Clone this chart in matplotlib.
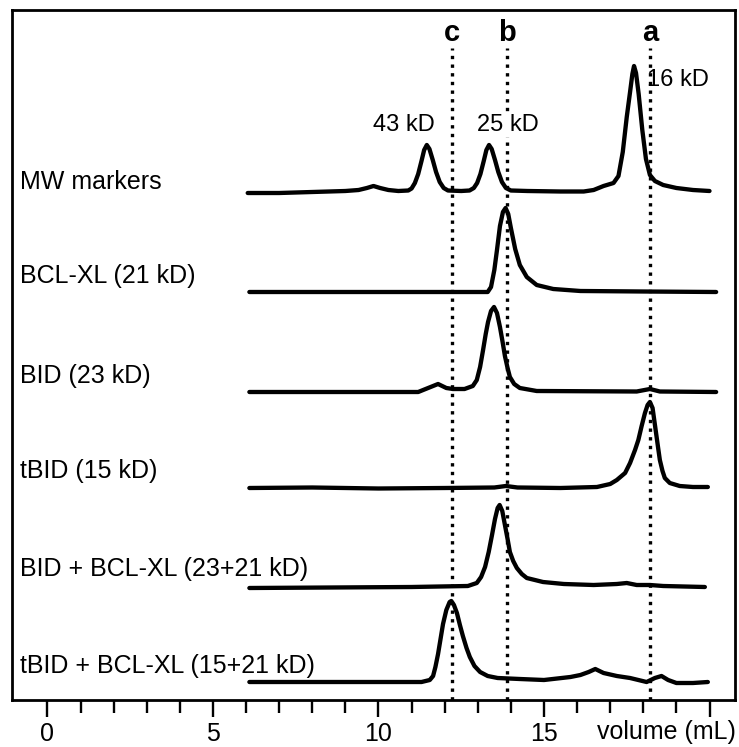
import matplotlib
matplotlib.use("Agg")
import matplotlib.pyplot as plt

plt.rcParams['font.family'] = ['Liberation Sans', 'DejaVu Sans']

# elution profiles: volume (mL) and absorbance above each trace's baseline (a.u.)
names = ['MW markers', 'BCL-XL (21 kD)', 'BID (23 kD)', 'tBID (15 kD)',
         'BID + BCL-XL (23+21 kD)', 'tBID + BCL-XL (15+21 kD)']

mw_vol = [6.05, 7.0, 8.0, 9.0, 9.4, 9.65, 9.85, 10.05, 10.3, 10.6,
          10.9, 11.0, 11.1, 11.2, 11.3, 11.38, 11.46, 11.54, 11.64, 11.74, 11.85, 11.97, 12.1,
          12.5, 12.75, 12.88, 12.98, 13.08, 13.18, 13.26, 13.34, 13.42, 13.52, 13.62, 13.73, 13.85, 14.0,
          14.5, 15.5, 16.2, 16.5, 16.8, 17.1, 17.25, 17.38, 17.5, 17.6, 17.67, 17.72, 17.78, 17.86,
          17.97, 18.08, 18.2, 18.35, 18.6, 19.0, 19.5, 20.0]
mw_abs = [-1, -1, 0, 1, 2, 4, 6, 4, 2, 1,
          1.5, 3.5, 9, 18, 31, 42, 47, 43, 32, 20, 10, 4, 1.5,
          1, 1.5, 4, 9, 18, 31, 42, 47, 43, 32, 20, 10, 4, 1.5,
          1, 0.5, 0.5, 2, 6, 9, 16, 40, 75, 100, 118, 126, 119, 98,
          62, 33, 17, 11, 7, 4, 2, 1]

bcl_vol = [6.1, 10.0, 13.3, 13.4, 13.5, 13.58, 13.67, 13.76, 13.84, 13.92, 14.0,
           14.13, 14.27, 14.48, 14.78, 15.28, 16.1, 18.0, 20.2]
bcl_abs = [0, 0, 0, 5, 22, 42, 66, 80, 84, 78, 64,
           43, 27, 15, 7, 3, 1, 0.5, 0]

bid_vol = [6.1, 11.2, 11.5, 11.8, 12.05, 12.25, 12.6, 12.85, 12.97, 13.07, 13.16, 13.24,
           13.31, 13.4, 13.49, 13.58, 13.67, 13.75, 13.82, 13.9, 13.97, 14.1, 14.27, 14.78,
           17.8, 18.2, 18.5, 20.2]
bid_abs = [0, 0, 4, 8, 4, 3, 3, 6, 12, 25, 42, 58,
           70, 81, 85, 79, 65, 50, 36, 24, 15, 8, 4, 1,
           0.5, 3, 0.5, 0]

tbid_vol = [6.1, 8.0, 10.0, 12.0, 13.5, 13.85, 14.2, 15.5, 16.6, 17.0, 17.2, 17.45, 17.6,
            17.75, 17.85, 17.95, 18.05, 18.13, 18.2, 18.28, 18.36, 18.44, 18.5, 18.58,
            18.65, 18.8, 19.1, 19.5, 19.95]
tbid_abs = [0, 0.5, -0.5, 0, 0.5, 2, 0.5, 0, 1, 4, 8, 15, 25,
            38, 48, 62, 75, 83, 86, 80, 61, 42, 28, 17,
            10, 5, 2, 1, 1]

bid_bcl_vol = [6.1, 11.0, 12.7, 12.97, 13.1, 13.22, 13.33, 13.43, 13.52, 13.6, 13.66, 13.74,
               13.82, 13.9, 13.97, 14.07, 14.18, 14.33, 14.48, 14.97, 15.6, 16.5, 17.2, 17.5,
               17.8, 18.2, 18.6, 19.86]
bid_bcl_abs = [-1, 0, 1, 4, 10, 20, 35, 52, 68, 79, 82, 76,
               62, 48, 35, 26, 19, 13, 9, 5, 3, 2, 3, 4,
               2, 2, 1, 0]

tbid_bcl_vol = [6.1, 11.3, 11.55, 11.65, 11.72, 11.8, 11.88, 11.95, 12.05, 12.15, 12.2, 12.28,
                12.37, 12.46, 12.55, 12.66, 12.76, 12.9, 13.07, 13.3, 13.6, 14.27, 15.0, 15.8,
                16.1, 16.35, 16.55, 16.8, 17.2, 17.6, 18.1, 18.35, 18.55, 18.75, 19.0, 19.5, 19.95]
tbid_bcl_abs = [0, 0, 2, 6, 15, 28, 44, 58, 72, 80, 81, 77,
                69, 57, 46, 34, 25, 16, 10, 6, 4, 3, 2, 5,
                7, 10, 13, 9, 6, 4, 0, 4, 6, 2, -1, -1, 0]

traces = [(mw_vol, mw_abs), (bcl_vol, bcl_abs), (bid_vol, bid_abs), (tbid_vol, tbid_abs),
          (bid_bcl_vol, bid_bcl_abs), (tbid_bcl_vol, tbid_bcl_abs)]

ref_labels = ['a', 'b', 'c']
ref_vol = [18.2, 13.88, 12.22]

marker_labels = ['43 kD', '25 kD', '16 kD']
marker_vol = [10.78, 13.9, 19.05]

# vertical layout (stacking of the traces)
baselines = [508, 408, 308, 212, 113, 18]
label_gap = [10, 16, 16, 17, 18, 16]

fig = plt.figure(figsize=(7.39, 7.47), dpi=100)
ax = fig.add_axes([12 / 739, 47 / 747, 723 / 739, 690 / 747])

for (v, a), base, gap, name in zip(traces, baselines, label_gap, names):
    ax.plot(v, [base + s for s in a], color='black', lw=3.1, solid_joinstyle='round',
            solid_capstyle='round', zorder=3)
    ax.text(-0.83, base + gap, name, fontsize=18, ha='left', va='center')

for lab, v in zip(ref_labels, ref_vol):
    ax.plot([v, v], [0, 652], color='black', lw=2.4, linestyle=(0, (1, 1.6)), zorder=1)
    ax.text(v, 667, lab, fontsize=21, fontweight='bold', ha='center', va='center')

ax.text(marker_vol[0], 575, marker_labels[0], fontsize=17, ha='center', va='center')
ax.text(marker_vol[1], 575, marker_labels[1], fontsize=17, ha='center', va='center',
        bbox=dict(facecolor='white', edgecolor='none', pad=1), zorder=2)
ax.text(marker_vol[2], 620, marker_labels[2], fontsize=17, ha='center', va='center')

ax.set_xlim(-1.07, 20.77)
ax.set_ylim(0, 690)
ax.set_yticks([])
ax.set_xticks([0, 5, 10, 15, 20])
ax.set_xticklabels(['0', '5', '10', '15', ''])
ax.set_xticks(range(0, 21), minor=True)
ax.tick_params(axis='x', which='major', direction='out', length=12.5, width=1.7,
               labelsize=18, pad=3)
ax.tick_params(axis='x', which='minor', direction='out', length=9.5, width=1.7)
ax.text(18.7, -0.046, 'volume (mL)', fontsize=18, ha='center', va='center',
        transform=ax.get_xaxis_transform())
for sp in ax.spines.values():
    sp.set_linewidth(2)

fig.savefig('out.png', dpi=100)
